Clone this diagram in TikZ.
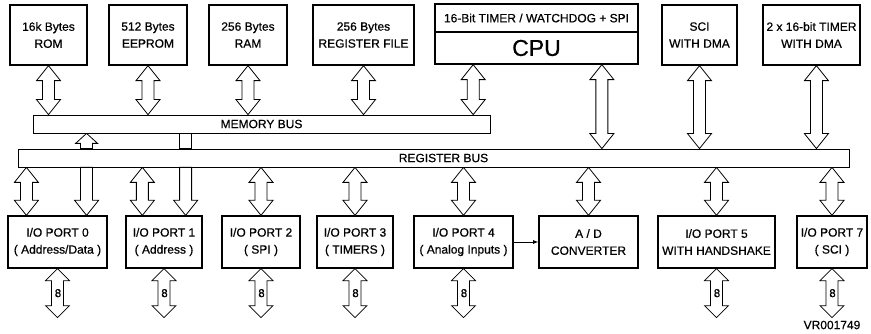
\documentclass[tikz,border=0pt]{standalone}
\usepackage{fontspec}
\setmainfont{Liberation Sans}[FakeBold=0.6]
\usepackage{tikz}
\usetikzlibrary{calc}

\begin{document}
\begin{tikzpicture}
		[x=1pt,y=-1pt,line join=miter,
		font=\fontsize{12}{17}\selectfont,
		%Styles
		hl/.store in=\hl, hl=15pt,
		block/.style={draw,line width=1.3pt,inner sep=0pt,align=center,minimum height=#1},
		block/.default=60pt,
		bus/.style={draw,line width=0.8pt,inner sep=0pt,minimum height=18pt},
		bigarrow/.style={draw,fill=white,line width=0.8pt},
		arrboth/.style={bigarrow,to path={let \p1=(\tikztostart), \p2=(\tikztotarget) in
			(\x1,\y1) -- (\x1+12pt,\y1-\hl) -- (\x1+6pt,\y1-\hl) -- (\x1+6pt,\y2+\hl) -- (\x1+12pt,\y2+\hl) -- (\x1,\y2)
			-- (\x1-12pt,\y2+\hl) -- (\x1-6pt,\y2+\hl) -- (\x1-6pt,\y1-\hl) -- (\x1-12pt,\y1-\hl) -- cycle}},
		arrtop/.style={bigarrow,to path={let \p1=(\tikztostart), \p2=(\tikztotarget) in
			(\x1,\y1) -- (\x1+11pt,\y1-\hl) -- (\x1+6pt,\y1-\hl) -- (\x1+6pt,\y2) -- (\x1-6pt,\y2)
			-- (\x1-6pt,\y1-\hl) -- (\x1-11pt,\y1-\hl) -- cycle}},
		arrbot/.style={bigarrow,to path={let \p1=(\tikztostart), \p2=(\tikztotarget) in
			(\x1-6pt,\y1) -- (\x1-6pt,\y2+\hl) -- (\x1-12pt,\y2+\hl) -- (\x1,\y2) -- (\x1+12pt,\y2+\hl)
			-- (\x1+6pt,\y2+\hl) -- (\x1+6pt,\y1) -- cycle}},
		arrnone/.style={bigarrow,to path={let \p1=(\tikztostart), \p2=(\tikztotarget) in
			(\x1-6pt,\y1) rectangle (\x1+6pt,\y2)}}
		]
		
		\useasboundingbox (0,0) rectangle (871,334);
		
		%Top row
		\node[block,minimum width=77pt] (rom) at (48.5,35) {16k Bytes\\ROM};
		\node[block,minimum width=78pt] (eeprom) at (148,35) {512 Bytes\\EEPROM};
		\node[block,minimum width=78pt] (ram) at (248,35) {256 Bytes\\RAM};
		\node[block,minimum width=101pt] (regfile) at (363.5,35) {256 Bytes\\REGISTER FILE};
		\node[block=28pt,minimum width=203pt] (cputop) at (536.5,18) {16-Bit TIMER / WATCHDOG + SPI};
		\node[block=32pt,minimum width=203pt,font=\fontsize{23}{26}\selectfont] (cpu) at (536.5,48) {CPU};
		\node[block,minimum width=75pt] (sci) at (699.5,35) {SCI\\WITH DMA};
		\node[block,minimum width=97pt] (timer) at (811.5,35) {2 x 16-bit TIMER\\WITH DMA};
		
		%Buses
		\node[bus,minimum width=457pt] (mbus) at (261.5,124) {MEMORY BUS};
		\node[bus,minimum width=831pt,label={[xshift=10pt]center:REGISTER BUS}] (rbus) at (433.5,158) {};
		
		%Bottom row
		\node[block=52pt,minimum width=99pt] (port0) at (57.5,242) {I/O PORT 0\\( Address/Data )};
		\node[block=52pt,minimum width=76pt] (port1) at (164,242) {I/O PORT 1\\( Address )};
		\node[block=52pt,minimum width=78pt] (port2) at (261,242) {I/O PORT 2\\( SPI )};
		\node[block=52pt,minimum width=76pt] (port3) at (355,242) {I/O PORT 3\\( TIMERS )};
		\node[block=52pt,minimum width=99pt] (port4) at (463.5,242) {I/O PORT 4\\( Analog Inputs )};
		\node[block=52pt,minimum width=99pt] (adc) at (588.5,242) {A / D\\CONVERTER};
		\node[block=52pt,minimum width=117pt] (port5) at (716.5,242) {I/O PORT 5\\WITH HANDSHAKE};
		\node[block=52pt,minimum width=70pt] (port7) at (832,242) {I/O PORT 7\\( SCI )};
		
		\node (vr) at (832,325) {VR001749};
		
		%Arrow points off centre
		\coordinate (cpua) at ($(cpu.south west)!0.19!(cpu.south east)$);
		\coordinate (cpub) at ($(cpu.south west)!0.82!(cpu.south east)$);
		\coordinate (tima) at ($(timer.south west)!0.55!(timer.south east)$);
		\coordinate (p0a) at ($(port0.north west)!0.19!(port0.north east)$);
		\coordinate (p0b) at ($(port0.north west)!0.79!(port0.north east)$);
		\coordinate (p1a) at ($(port1.north west)!0.22!(port1.north east)$);
		\coordinate (p1b) at ($(port1.north west)!0.78!(port1.north east)$);
		
		%Memory bus
		\foreach \b in {rom,eeprom,ram,regfile}
			\draw[arrboth] (\b.south) to (mbus.north -| \b.south);
		\draw[arrboth] (cpua) to (mbus.north -| cpua);
		
		%Register bus
		\draw[arrboth] (cpub) to (rbus.north -| cpub);
		\draw[arrboth] (sci.south) to (rbus.north -| sci.south);
		\draw[arrboth] (tima) to (rbus.north -| tima);
		\draw[arrtop,hl=10pt] (mbus.south -| p0b) to (rbus.north -| p0b);
		\draw[arrnone] (mbus.south -| p1b) to (rbus.north -| p1b);
		
		\draw[arrboth] (rbus.south -| p0a) to (p0a);
		\draw[arrbot] (rbus.south -| p0b) to (p0b);
		\draw[arrboth] (rbus.south -| p1a) to (p1a);
		\draw[arrbot] (rbus.south -| p1b) to (p1b);
		\foreach \b in {port2,port3,port4,adc,port5,port7}
			\draw[arrboth] (rbus.south -| \b.north) to (\b.north);
		
		\draw[line width=0.8pt,-latex] (port4.east) -- (adc.west);
		
		%8-bit ports
		\foreach \b in {port0,port1,port2,port3,port4,port5,port7}{
			\draw[arrboth,hl=12pt] (\b.south) to ($(\b.south)+(0,49)$);
			\node[font=\fontsize{11.5}{12}\selectfont,inner sep=0pt] (\b n) at ($(\b.south)+(0.5,24.5)$) {8};
		}
	\end{tikzpicture}
\end{document}
